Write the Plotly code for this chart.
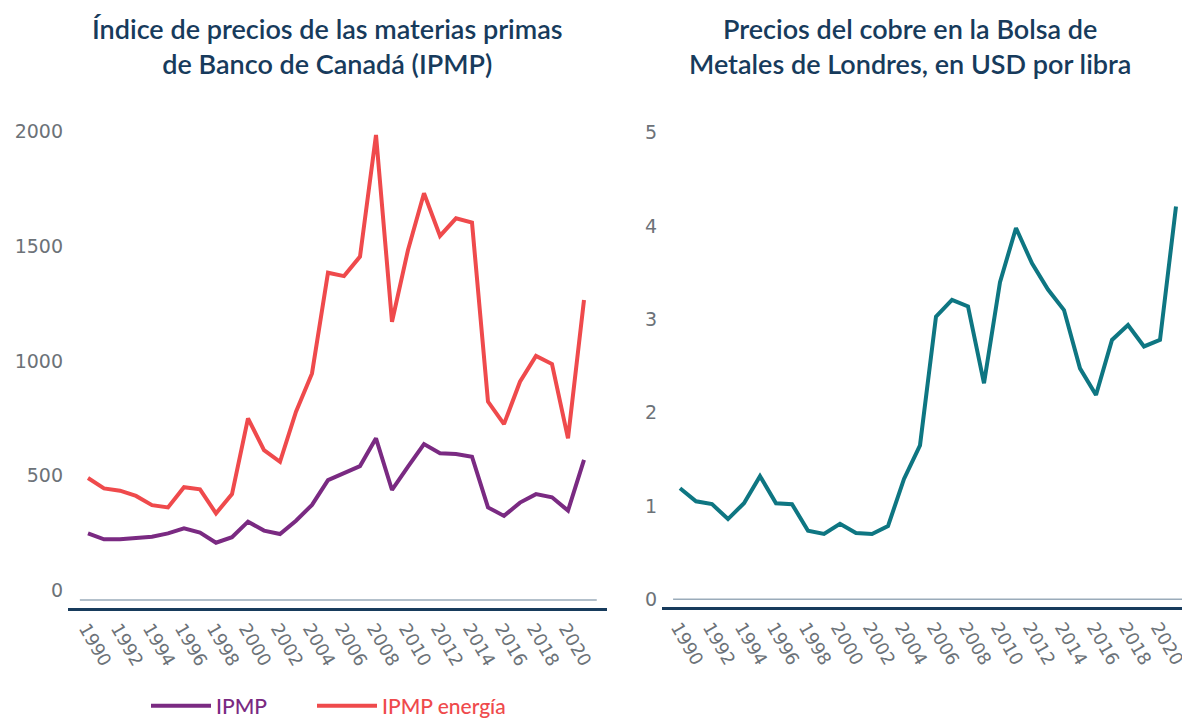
import plotly.graph_objects as go

years = [1990, 1991, 1992, 1993, 1994, 1995, 1996, 1997, 1998, 1999,
         2000, 2001, 2002, 2003, 2004, 2005, 2006, 2007, 2008, 2009,
         2010, 2011, 2012, 2013, 2014, 2015, 2016, 2017, 2018, 2019,
         2020, 2021]

ipmp = [249, 223, 223, 227, 234, 249, 271, 252, 208, 232,
        300, 261, 246, 304, 373, 481, 511, 542, 663, 438,
        540, 638, 598, 595, 583, 362, 325, 383, 420, 406,
        348, 569]

ipmp_energia = [490, 445, 435, 412, 372, 362, 450, 441, 336, 420,
                750, 612, 561, 779, 946, 1385, 1370, 1455, 1985, 1171,
                1484, 1731, 1545, 1622, 1603, 823, 725, 910, 1022, 987,
                663, 1266]

cobre = [1.19, 1.05, 1.02, 0.86, 1.03, 1.32, 1.03, 1.02, 0.735, 0.70,
         0.81, 0.71, 0.70, 0.785, 1.29, 1.65, 3.03, 3.21, 3.14, 2.315,
         3.40, 3.98, 3.60, 3.32, 3.10, 2.475, 2.19, 2.78, 2.94, 2.71,
         2.78, 4.21]

x_ticks = [1990, 1992, 1994, 1996, 1998, 2000, 2002, 2004, 2006, 2008,
           2010, 2012, 2014, 2016, 2018, 2020]
x_ticktext = [str(t) for t in x_ticks]
left_yticks = [0, 500, 1000, 1500, 2000]
right_yticks = [0, 1, 2, 3, 4, 5]

title_left = "Índice de precios de las materias primas<br>de Banco de Canadá (IPMP)"
title_right = "Precios del cobre en la Bolsa de<br>Metales de Londres, en USD por libra"

C_PURPLE = "#7a2a82"
C_RED = "#ef4a4c"
C_TEAL = "#0e7682"
C_NAVY = "#173b5c"
C_TICK = "#6c7278"
C_THIN = "#9aabba"

# the page body has an 8px margin: the figure starts at (8, 8) in the window
OFF = 8
W, H = 1190 - OFF, 721 - OFF


def px(x):
    return (x - OFF) / W


def py(y):
    return 1 - (y - OFF) / H


fig = go.Figure()
fig.add_trace(go.Scatter(
    x=years, y=ipmp, mode="lines", name=f"<span style='color:{C_PURPLE}'>IPMP</span>",
    line=dict(color=C_PURPLE, width=4), xaxis="x", yaxis="y", legend="legend"))
fig.add_trace(go.Scatter(
    x=years, y=ipmp_energia, mode="lines", name=f"<span style='color:{C_RED}'>IPMP energía</span>",
    line=dict(color=C_RED, width=4), xaxis="x", yaxis="y", legend="legend2"))
fig.add_trace(go.Scatter(
    x=years, y=cobre, mode="lines", name="Cobre", showlegend=False,
    line=dict(color=C_TEAL, width=4), xaxis="x2", yaxis="y2"))

ytickfont = dict(family="DejaVu Sans", size=19, color=C_TICK)
xtickfont = dict(family="DejaVu Sans", size=18, color=C_TICK)

xcommon = dict(
    tickvals=x_ticks, ticktext=x_ticktext, tickangle=60, tickfont=xtickfont,
    showgrid=False, zeroline=False, showline=True, linecolor=C_NAVY, linewidth=3,
    ticks="", fixedrange=True, automargin=False, ticklabeloverflow="allow",
    ticklabelshift=-2,
)
ycommon = dict(tickfont=ytickfont, showgrid=False, zeroline=False, showline=False,
               ticks="", fixedrange=True, automargin=False, ticklabeloverflow="allow",
               ticklabelstandoff=4)

legend_common = dict(orientation="h", xanchor="left", y=py(706), yanchor="middle",
                     font=dict(family="Lato", size=21, weight=500), itemwidth=60,
                     bgcolor="rgba(0,0,0,0)", borderwidth=0)

fig.update_layout(
    width=W, height=H,
    margin=dict(l=0, r=0, t=0, b=0, autoexpand=False),
    paper_bgcolor="white", plot_bgcolor="white",
    xaxis=dict(domain=[px(68), px(607)], range=[1988.75, 2022.4375], anchor="y", **xcommon),
    xaxis2=dict(domain=[px(662), 1.0], range=[1988.875, 2021.875], anchor="y2", **xcommon),
    yaxis=dict(domain=[py(608), py(108.6)], range=[-76.3, 2100], anchor="x",
               tickvals=left_yticks, **ycommon),
    yaxis2=dict(domain=[py(607), py(104.8)], range=[-0.0825, 5.3], anchor="x2",
                tickvals=right_yticks, **ycommon),
    showlegend=True,
    legend=dict(x=px(146), **legend_common),
    legend2=dict(x=px(312), **legend_common),
    annotations=[
        dict(text=title_left, x=px(327), y=py(10), xref="paper", yref="paper",
             xanchor="center", yanchor="top", showarrow=False, align="center",
             font=dict(family="Lato", size=27, color=C_NAVY, weight=600)),
        dict(text=title_right, x=px(910), y=py(10), xref="paper", yref="paper",
             xanchor="center", yanchor="top", showarrow=False, align="center",
             font=dict(family="Lato", size=27, color=C_NAVY, weight=600)),
    ],
    shapes=[
        dict(type="line", xref="x domain", yref="y domain", x0=0.022, x1=0.981,
             y0=8 / 499.4, y1=8 / 499.4, line=dict(color=C_THIN, width=1.5)),
        dict(type="line", xref="x2 domain", yref="y2", x0=0.021, x1=0.992,
             y0=0, y1=0, line=dict(color=C_THIN, width=1.5)),
    ],
)

fig.write_html("out.html")
